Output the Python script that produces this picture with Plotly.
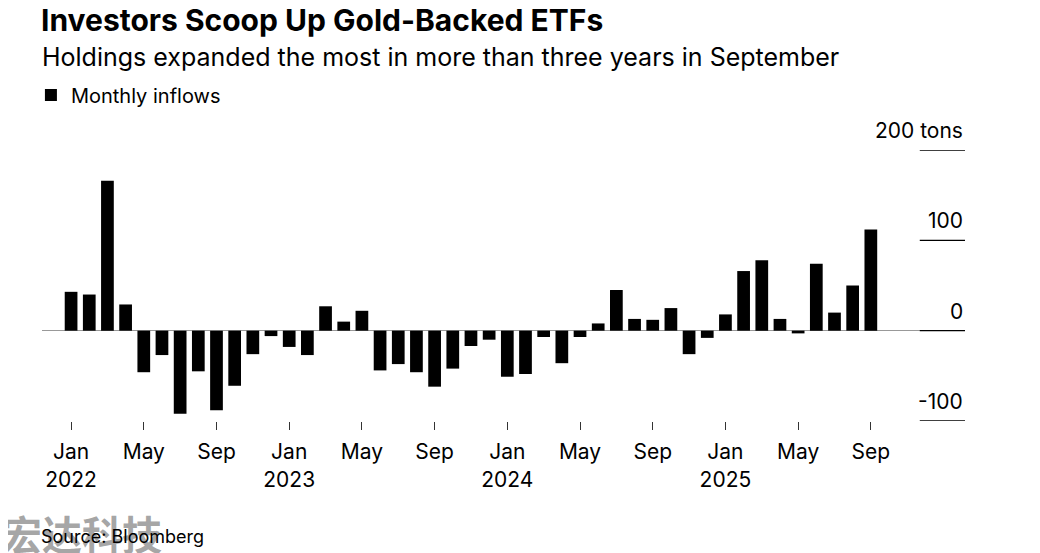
import pandas as pd
import plotly.graph_objects as go

# Monthly inflows (tons), Jan 2022 .. Sep 2025
months = list(pd.date_range("2022-01-01", periods=45, freq="MS").strftime("%Y-%m"))
inflows = [
    43, 40, 166, 29, -46, -27, -92, -45, -88, -61, -26, -6,      # 2022
    -18, -27, 27, 10, 22, -44, -37, -46, -62, -42, -17, -10,     # 2023
    -51, -48, -7, -36, -7, 8, 45, 13, 12, 25, -26, -8,           # 2024
    18, 66, 78, 13, -3, 74, 20, 50, 112,                          # 2025
]

tick_months = ["2022-01", "2022-05", "2022-09", "2023-01", "2023-05", "2023-09",
               "2024-01", "2024-05", "2024-09", "2025-01", "2025-05", "2025-09"]
tick_text = ["Jan<br>2022", "May", "Sep", "Jan<br>2023", "May", "Sep",
             "Jan<br>2024", "May", "Sep", "Jan<br>2025", "May", "Sep"]

y_ticks = [200, 100, 0, -100]
y_labels = ["200 tons", "100", "0", "-100"]

FONT = "Inter, Liberation Sans, Arial, sans-serif"

fig = go.Figure()
fig.add_trace(go.Bar(
    x=months, y=inflows, name="Monthly inflows",
    marker=dict(color="#000000", line=dict(width=0)),
    showlegend=True,
))

# page has an 8px body margin; compensate so the figure matches the window
OFF = 8
W, H = 1040 - OFF, 553 - OFF
L, R, T, B = 42 - OFF, 75, 150 - OFF, 132
ph = H - T - B

def py(px):
    # px measured in window coordinates
    return (H + OFF - B - px) / ph

shapes = []
annotations = []
for v, lab in zip(y_ticks, y_labels):
    shapes.append(dict(type="line", xref="paper", yref="y", x0=0.951, x1=1.0,
                       y0=v, y1=v, line=dict(color="#000000", width=1.3)))
    annotations.append(dict(xref="paper", yref="y", x=1.0, y=v, text=lab,
                            xanchor="right", yanchor="bottom", yshift=5,
                            showarrow=False, font=dict(size=21, color="#000", family=FONT)))

annotations += [
    dict(xref="paper", yref="paper", x=-0.003, y=py(20), xanchor="left", yanchor="middle",
         text="<b>Investors Scoop Up Gold-Backed ETFs</b>", showarrow=False,
         font=dict(size=30, color="#000", family=FONT)),
    dict(xref="paper", yref="paper", x=-0.002, y=py(57), xanchor="left", yanchor="middle",
         text="Holdings expanded the most in more than three years in September", showarrow=False,
         font=dict(size=25, color="#000", family=FONT)),
    dict(xref="paper", yref="paper", x=-0.046, y=py(533), xanchor="left", yanchor="middle",
         text="<b>宏达科技</b>", showarrow=False,
         font=dict(size=40, color="rgba(150,150,150,0.85)", family="Noto Sans CJK SC")),
    dict(xref="paper", yref="paper", x=-0.003, y=py(536), xanchor="left", yanchor="middle",
         text="Source: Bloomberg", showarrow=False,
         font=dict(size=18, color="#000", family=FONT)),
]

fig.update_layout(
    width=W, height=H,
    margin=dict(l=L, r=R, t=T, b=B),
    paper_bgcolor="#ffffff", plot_bgcolor="#ffffff",
    bargap=0.3,
    font=dict(family=FONT, size=20, color="#000"),
    legend=dict(x=-0.012, y=py(95), xanchor="left", yanchor="middle",
                orientation="h", font=dict(size=20, family=FONT), bgcolor="rgba(0,0,0,0)"),
    shapes=shapes,
    annotations=annotations,
    xaxis=dict(type="category", categoryorder="array", categoryarray=months,
               range=[-1.6, 49.18], tickmode="array", tickvals=tick_months, ticktext=tick_text,
               ticks="outside", ticklen=8, tickwidth=1, tickcolor="#333",
               ticklabelstandoff=4,
               showgrid=False, showline=False, zeroline=False,
               tickfont=dict(size=21, family=FONT, color="#000")),
    yaxis=dict(range=[-100, 200], showgrid=False, showticklabels=False, ticks="",
               zeroline=True, zerolinecolor="#999999", zerolinewidth=1.3, showline=False),
)

fig.write_html("out.html")
